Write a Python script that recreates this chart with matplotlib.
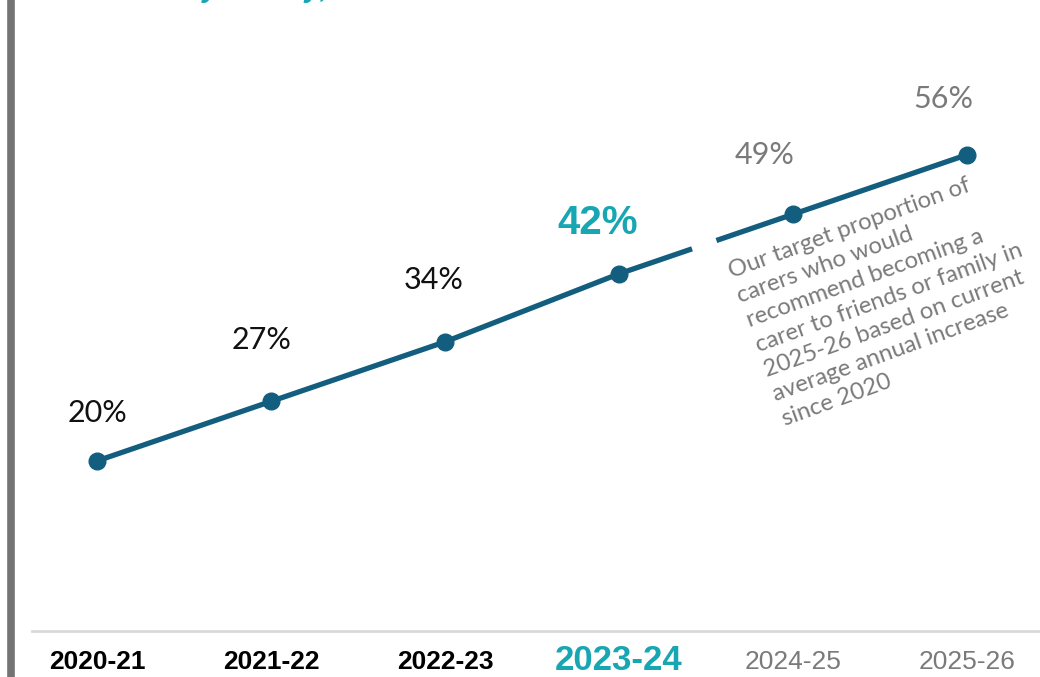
import matplotlib.pyplot as plt
import matplotlib.lines as mlines
import matplotlib.transforms as mtransforms

years = ['2020-21', '2021-22', '2022-23', '2023-24', '2024-25', '2025-26']
values = [20, 27, 34, 42, 49, 56]
labels = ['20%', '27%', '34%', '42%', '49%', '56%']
current = 3  # index of the latest actual year

note = ('Our target proportion of\ncarers who would\nrecommend becoming a\n'
        'carer to friends or family in\n2025-26 based on current\n'
        'average annual increase\nsince 2020')
title = 'Carer family survey, annual'

line_col = '#135e7f'
teal = '#17a6b2'
grey = '#7a7a7a'

# label offsets from each point, in pixels (right, up)
label_offsets = [(0, 48), (-9, 61), (-11, 62), (-21, 51), (-28, 59), (-24, 56)]

fig = plt.figure(figsize=(10.4, 6.77), dpi=100)
ax = fig.add_axes([32 / 1040, 46 / 677, 1008 / 1040, 631 / 677])

x = list(range(len(years)))
ax.plot(x, values, color=line_col, lw=3.8, marker='o', ms=12, solid_capstyle='butt', zorder=3)

# small break in the line between the last actual and the first target year
x0, x1 = x[current], x[current + 1]
y0, y1 = values[current], values[current + 1]
f0, f1 = 0.42, 0.56
ax.plot([x0 + f0 * (x1 - x0), x0 + f1 * (x1 - x0)],
        [y0 + f0 * (y1 - y0), y0 + f1 * (y1 - y0)],
        color='white', lw=7, solid_capstyle='butt', zorder=4)

for i, (xi, v, lab) in enumerate(zip(x, values, labels)):
    dx, dy = label_offsets[i]
    off = (dx * 0.72, dy * 0.72)
    if i < current:
        ax.annotate(lab, (xi, v), xytext=off, textcoords='offset points',
                    ha='center', va='center', fontsize=22, color='#111111', family='Lato')
    elif i == current:
        ax.annotate(lab, (xi, v), xytext=off, textcoords='offset points',
                    ha='center', va='center', fontsize=29, color=teal, weight='bold',
                    family='Liberation Sans')
    else:
        ax.annotate(lab, (xi, v), xytext=off, textcoords='offset points',
                    ha='center', va='center', fontsize=22, color=grey, family='Lato')

ax.text(4.55, 39.2, note, rotation=20, ha='center', va='center', multialignment='left',
        fontsize=17.2, color=grey, family='Lato', linespacing=1.3, rotation_mode='anchor')

ax.set_xlim(-0.374, 5.42)
ax.set_ylim(0, 74.2)
ax.set_yticks([])
ax.set_xticks(x)
ax.set_xticklabels(years)
ax.tick_params(axis='x', length=0, pad=14)
for i, t in enumerate(ax.get_xticklabels()):
    t.set_family('Liberation Sans')
    if i < current:
        t.set_fontsize(19)
        t.set_weight('bold')
        t.set_color('black')
    elif i == current:
        t.set_fontsize(25)
        t.set_weight('bold')
        t.set_color(teal)
        t.set_transform(t.get_transform() +
                        mtransforms.ScaledTranslation(0, 6 / 100, fig.dpi_scale_trans))
    else:
        t.set_fontsize(19)
        t.set_color(grey)

for s in ['top', 'right', 'left']:
    ax.spines[s].set_visible(False)
ax.spines['bottom'].set_color('#d9d9d9')
ax.spines['bottom'].set_linewidth(2)

# grey bar on the left edge
fig.add_artist(mlines.Line2D([11 / 1040, 11 / 1040], [0, 1], color='#747474', lw=5.5,
                             transform=fig.transFigure))

# title cut off at the top of the picture
fig.text(50 / 1040, 1 + 3 / 677, title, ha='left', va='baseline', fontsize=21,
         color=teal, style='italic', weight='bold', family='Liberation Sans')

fig.savefig('out.png', dpi=100)
